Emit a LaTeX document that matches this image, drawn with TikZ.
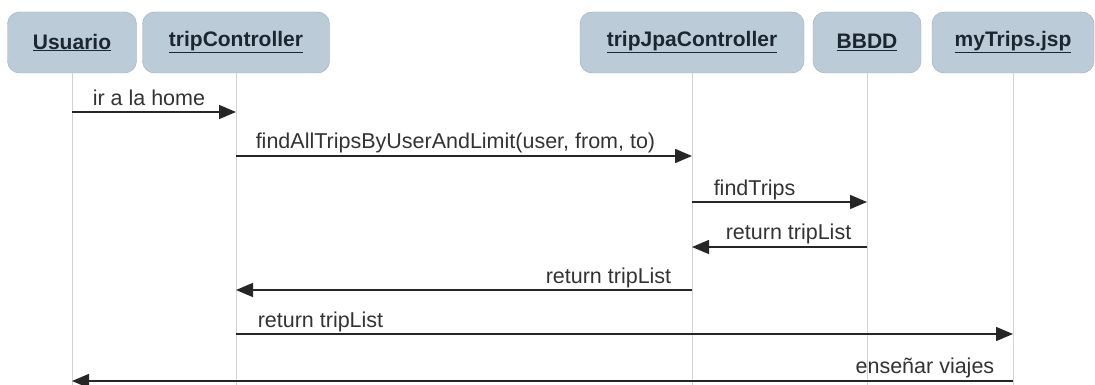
\documentclass[tikz,border=0pt]{standalone}
\usepackage{fontspec}
\setmainfont{Liberation Sans}
\usetikzlibrary{arrows.meta}
\definecolor{headfill}{HTML}{BCCBD8}
\definecolor{headline}{HTML}{9DAAB6}
\definecolor{headtext}{HTML}{1C2631}
\definecolor{lifegray}{HTML}{D2D2D2}
\begin{document}
\begin{tikzpicture}[x=1pt,y=-1pt,
  head/.style={draw=headline,fill=headfill,rounded corners=12pt,minimum height=61pt,inner sep=0pt,
    font=\bfseries\fontsize{21}{21}\selectfont,text=headtext},
  life/.style={draw=lifegray,line width=1pt},
  msg/.style={draw=black!85,line width=1.5pt,-{Triangle[length=17pt,width=14pt]}},
  lbl/.style={font=\fontsize{21.5}{21.5}\selectfont,text=black!80,inner sep=0pt}]
\useasboundingbox (0,0) rectangle (1095,385);
% lifeline heads
\node[head,minimum width=129pt] (usuario) at (72,42.5) {\underline{Usuario}};
\node[head,minimum width=187pt] (tripctl) at (236,42.5) {\underline{tripController}};
\node[head,minimum width=224pt] (tripjpa) at (692,42.5) {\underline{tripJpaController}};
\node[head,minimum width=108pt] (bbdd) at (867,42.5) {\underline{BBDD}};
\node[head,minimum width=162pt] (mytrips) at (1013,42.5) {\underline{myTrips.jsp}};
% lifelines and message points
\foreach \n in {usuario,tripctl,tripjpa,bbdd,mytrips}{
  \draw[life] (\n.south) -- (\n |- 0,385);
  \foreach \m/\y in {1/112,2/156,3/202,4/247,5/290,6/334,7/381}
    \coordinate (\n-\m) at (\n |- 0,\y);
}
% messages
\draw[msg] (usuario-1) -- (tripctl-1) node[lbl,pos=0,anchor=base west,xshift=20pt,yshift=6pt] {ir a la home};
\draw[msg] (tripctl-2) -- (tripjpa-2) node[lbl,pos=0,anchor=base west,xshift=19pt,yshift=7pt] {findAllTripsByUserAndLimit(user, from, to)};
\draw[msg] (tripjpa-3) -- (bbdd-3) node[lbl,pos=0,anchor=base west,xshift=21pt,yshift=7pt] {findTrips};
\draw[msg] (bbdd-4) -- (tripjpa-4) node[lbl,pos=0,anchor=base east,xshift=-15pt,yshift=8pt] {return tripList};
\draw[msg] (tripjpa-5) -- (tripctl-5) node[lbl,pos=0,anchor=base east,xshift=-20pt,yshift=7pt] {return tripList};
\draw[msg] (tripctl-6) -- (mytrips-6) node[lbl,pos=0,anchor=base west,xshift=21pt,yshift=7pt] {return tripList};
\draw[msg] (mytrips-7) -- (usuario-7) node[lbl,pos=0,anchor=base east,xshift=-18pt,yshift=8pt] {enseñar viajes};
\end{tikzpicture}
\end{document}
